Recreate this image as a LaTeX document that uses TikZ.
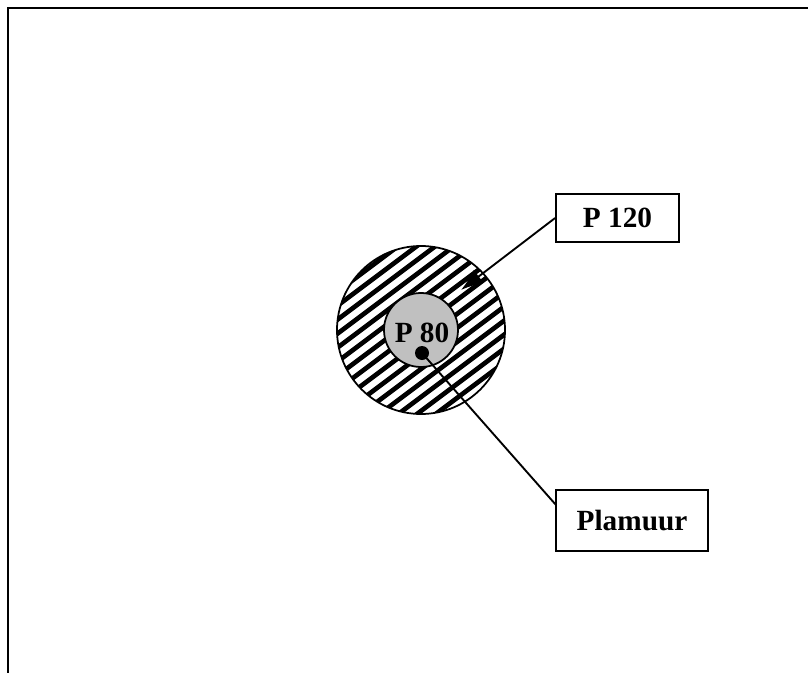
\documentclass[tikz,border=0pt]{standalone}
\usepackage{fontspec}
\setmainfont{Liberation Serif}
\usetikzlibrary{arrows.meta}

\tikzset{
    labelbox/.style={draw, line width=1.5pt, inner sep=0pt, font=\fontsize{25}{29}\selectfont\bfseries},
    stripe/.style={line width=4pt},
}

\begin{document}
\begin{tikzpicture}[x=0.03cm, y=-0.03cm]
        \useasboundingbox (0, 0) rectangle (808, 673);
        % frame, only top and left edge
        \draw[line width=2pt] (8, 673) -- (8, 8) -- (808, 8);

        % striped ring
        \begin{scope}
            \clip (421, 330) circle (84);
            \foreach \k in {-13,...,13}
                \draw[stripe] (321, 327+\k*14+75) -- ++(200, -150);
        \end{scope}
        \draw[line width=1.5pt] (421, 330) circle (84);
        \draw[line width=1.5pt, fill={rgb,255:red,192;green,192;blue,192}] (421, 330) circle (37);
        \node[font=\fontsize{25}{29}\selectfont\bfseries] (p80) at (422, 333) {P 80};
        \node[circle, fill, inner sep=0pt, minimum size=14*0.03cm] (dot) at (422, 353) {};

        % labels
        \node[labelbox, minimum width=123*0.03cm, minimum height=48*0.03cm] (p120) at (617.5, 218) {P 120};
        \node[labelbox, minimum width=152*0.03cm, minimum height=61*0.03cm] (plamuur) at (632, 520.5) {Plamuur};

        \coordinate (tip) at (461, 290);
        \coordinate (plamend) at (556, 505);
        \draw[line width=1.6pt, -{Latex[length=19pt, width=14pt]}] (p120.west) -- (tip);
        \draw[line width=1.6pt] (dot.center) -- (plamend);

\end{tikzpicture}
\end{document}
